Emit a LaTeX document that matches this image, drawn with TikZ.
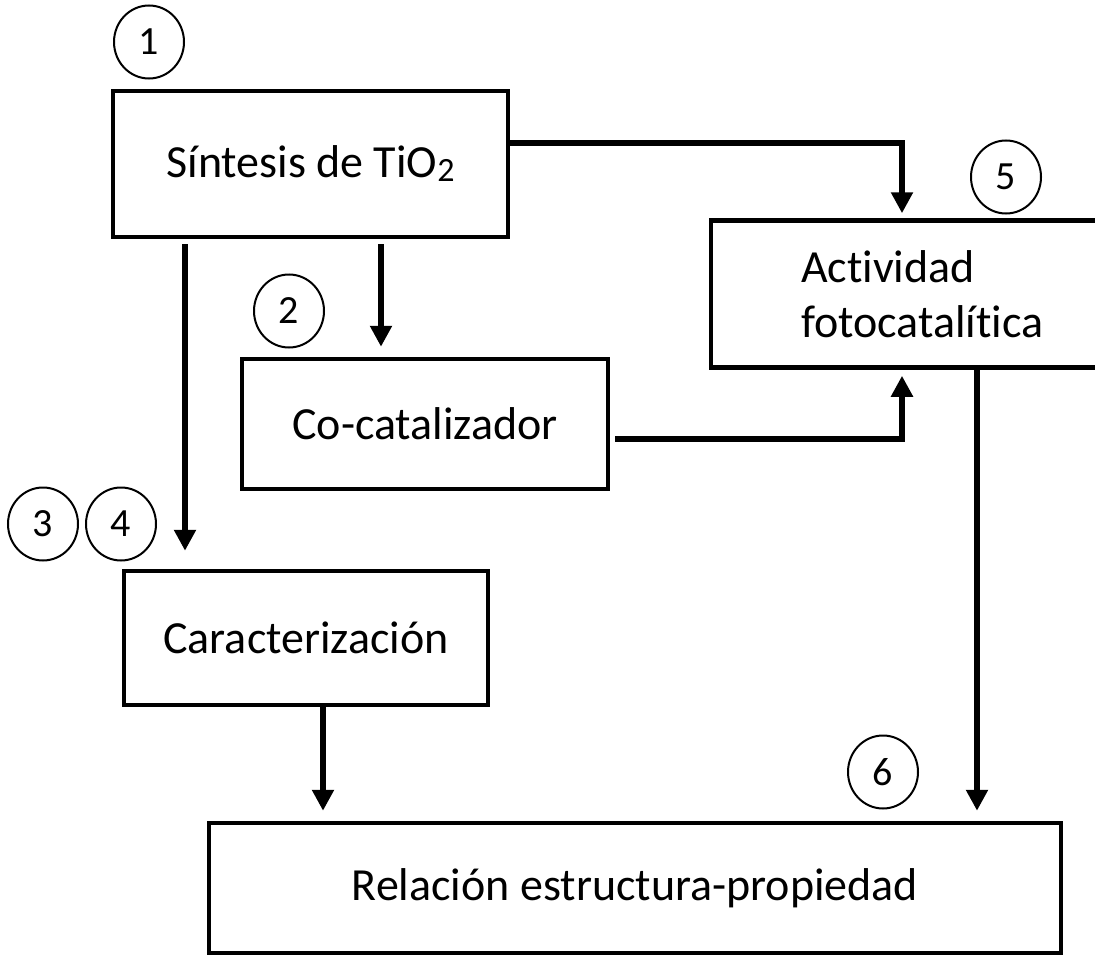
\documentclass[tikz,border=0pt]{standalone}
\usepackage{fontspec}
\setmainfont{Carlito}[Ligatures=NoCommon]
\usetikzlibrary{arrows.meta,shapes.geometric}

\begin{document}
\begin{tikzpicture}[x=1pt,y=-1pt,
    caja/.style={draw, line width=4.5pt, inner sep=0pt, font=\fontsize{46}{55}\selectfont},
    num/.style={ellipse, draw, line width=2pt, minimum width=70pt, minimum height=73pt, inner sep=0pt, font=\fontsize{40}{44}\selectfont},
    flecha/.style={line width=5.5pt, -{Triangle[length=21pt,width=21pt]}}]
    \useasboundingbox (0,0) rectangle (1095,955);

    % Cajas
    \node[caja, minimum width=395pt, minimum height=146pt] (sint) at (310.5,164) {Síntesis de TiO\raisebox{-4pt}{\fontsize{34}{34}\selectfont 2}};
    \node[caja, minimum height=147pt, text width=260pt, align=left, inner xsep=90pt] (act) at (931,294) {Actividad\\fotocatalítica};
    \node[caja, minimum width=366pt, minimum height=130pt] (cocat) at (425,424) {Co-catalizador};
    \node[caja, minimum width=364pt, minimum height=134pt] (carac) at (306,638) {Caracterización};
    \node[caja, minimum width=852pt, minimum height=130pt] (rel) at (635,888) {Relación estructura-propiedad};

    % Numeros
    \node[num] (n1) at (149,42) {1};
    \node[num] (n2) at (289,311) {2};
    \node[num] (n3) at (43,524) {3};
    \node[num] (n4) at (121,524) {4};
    \node[num] (n5) at (1006,177) {5};
    \node[num] (n6) at (883,772) {6};

    % Flechas
    \draw[flecha, shorten >=5pt] (sint.east |- 0,143) -| (902,0 |- act.north);
    \draw[flecha, shorten <=5pt, shorten >=10pt] (sint.south -| 381,0) -- (cocat.north -| 381,0);
    \draw[flecha, shorten <=5pt, shorten >=18pt] (sint.south -| 185,0) -- (carac.north -| 185,0);
    \draw[flecha, shorten <=5pt, shorten >=6pt] (cocat.east |- 0,439) -| (902,0 |- act.south);
    \draw[flecha, shorten >=10pt] (carac.south -| 323,0) -- (rel.north -| 323,0);
    \draw[flecha, shorten >=10pt] (act.south -| 977,0) -- (rel.north -| 977,0);
\end{tikzpicture}
\end{document}
